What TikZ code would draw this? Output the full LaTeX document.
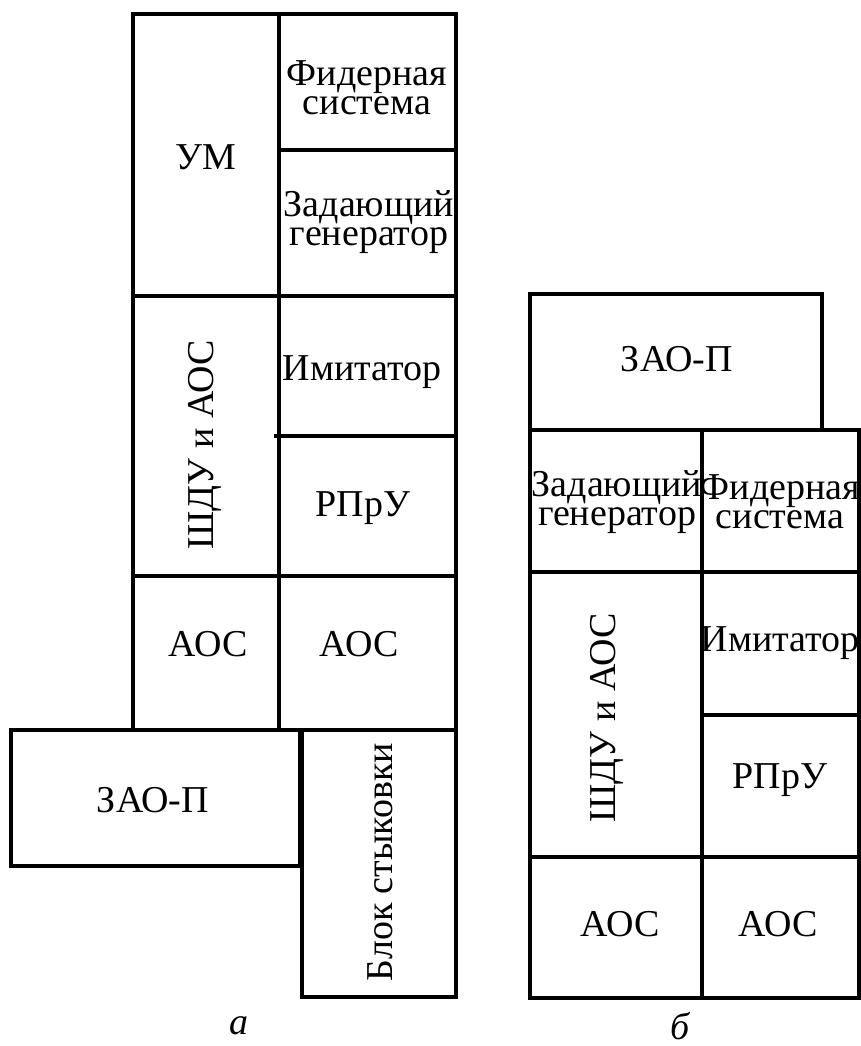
\documentclass[tikz,border=0pt]{standalone}
\usepackage{fontspec}
\setmainfont{Liberation Serif}
\newfontfamily\blockfont{Liberation Serif}
\usepackage{tikz}
\usetikzlibrary{positioning}

\tikzset{
  wall/.style={line width=2.3pt, black, line cap=rect},
  lbl/.style={inner sep=0pt, align=center, font=\blockfont\fontsize{27}{20.5}\selectfont},
  sublbl/.style={inner sep=0pt, font=\blockfont\fontsize{27}{20.5}\selectfont\itshape}
}

\begin{document}
\begin{tikzpicture}[x=0.025cm, y=-0.025cm]
		\useasboundingbox (0,0) rectangle (861,1046);
		
		% layout a
		\draw[wall] (133,14) rectangle (456,730);
		\draw[wall] (279,14) to (279,730);
		\draw[wall] (279,150) to (456,150);
		\draw[wall] (133,296) to (456,296);
		\draw[wall] (276,436) to (456,436);
		\draw[wall] (133,576) to (456,576);
		\draw[wall] (11,730) rectangle (300,866);
		\draw[wall] (302,730) rectangle (456,997);
		
		% layout b
		\draw[wall] (530,294) rectangle (822,430);
		\draw[wall] (530,430) rectangle (859,998);
		\draw[wall] (702,430) to (702,998);
		\draw[wall] (530,572) to (859,572);
		\draw[wall] (702,715) to (859,715);
		\draw[wall] (530,857) to (859,857);
		
		% texts a
		\node[lbl] (umA) at (206,157) {УМ};
		\node[lbl] (fsA) at (367,88) {Фидерная\\система};
		\node[lbl] (zgA) at (369,222) {Задающий\\генератор};
		\node[lbl, rotate=90] (shduA) at (205,445) {ШДУ и АОС};
		\node[lbl] (imA) at (362,372) {Имитатор};
		\node[lbl] (rpA) at (363,508) {РПрУ};
		\node[lbl] (aosA1) at (208,644) {АОС};
		\node[lbl] (aosA2) at (359,644) {АОС};
		\node[lbl] (zaoA) at (153,800) {ЗАО-П};
		\node[lbl, rotate=90] (bsA) at (380,862) {Блок стыковки};
		\node[sublbl] (capA) at (239,1026) {а};
		
		% texts b
		\node[lbl] (zaoB) at (677,359) {ЗАО-П};
		\node[lbl] (zgB) at (617,502) {Задающий\\генератор};
		\node[lbl] (fsB) at (780,502) {Фидерная\\система};
		\node[lbl, rotate=90] (shduB) at (607,718) {ШДУ и АОС};
		\node[lbl] (imB) at (780,643) {Имитатор};
		\node[lbl] (rpB) at (780,780) {РПрУ};
		\node[lbl] (aosB1) at (620,924) {АОС};
		\node[lbl] (aosB2) at (778,924) {АОС};
		\node[sublbl] (capB) at (680,1026) {б};
	\end{tikzpicture}
\end{document}
